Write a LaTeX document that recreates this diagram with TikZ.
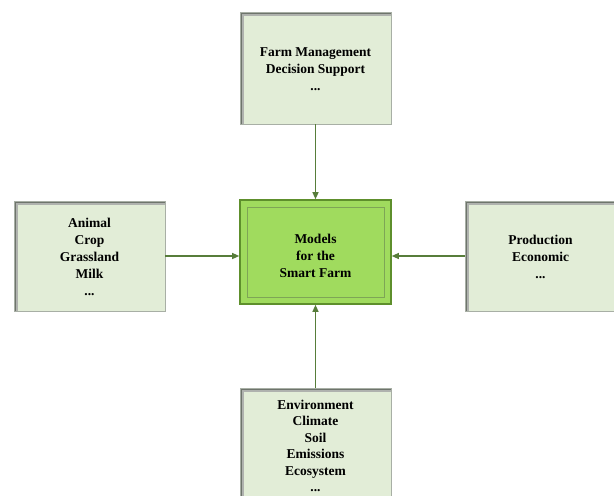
\documentclass[tikz,border=0pt]{standalone}
\usepackage{fontspec}
\setmainfont{Liberation Serif}
\usetikzlibrary{arrows.meta}
\definecolor{lightbox}{HTML}{E2EDD7}
\definecolor{shadowgray}{HTML}{6E746C}
\definecolor{edgegray}{HTML}{A8AFA5}
\definecolor{centerfill}{HTML}{A0DB5E}
\definecolor{centeredge}{HTML}{5E8F2C}
\definecolor{arrowgreen}{HTML}{577D3A}
\tikzset{
  outerbox/.style={rectangle, fill=lightbox, draw=edgegray, line width=0.6pt,
    minimum width=151pt, inner sep=0pt, align=center,
    font=\bfseries\fontsize{13.5}{17}\selectfont, text=black!90,
    path picture={
      \draw[shadowgray!55, line width=7pt] (path picture bounding box.south west) -- (path picture bounding box.north west) -- (path picture bounding box.north east);
      \draw[shadowgray, line width=3.5pt] (path picture bounding box.south west) -- (path picture bounding box.north west) -- (path picture bounding box.north east);
    }},
  centerbox/.style={rectangle, fill=centerfill, draw=centeredge, line width=1.6pt,
    minimum width=151pt, minimum height=104pt, inner sep=0pt, align=center,
    font=\bfseries\fontsize{13.5}{17}\selectfont, text=black!90,
    path picture={
      \draw[centeredge!80, line width=0.9pt] ([xshift=7pt,yshift=7pt]path picture bounding box.south west) rectangle ([xshift=-7pt,yshift=-7pt]path picture bounding box.north east);
    }},
  link/.style={draw=arrowgreen, line width=1.1pt, -{Triangle[length=7pt,width=6pt]}}
}
\begin{document}
\begin{tikzpicture}[x=1pt,y=-1pt]
\useasboundingbox (0,0) rectangle (614,496);
\clip (0,0) rectangle (614,496);
\fill[white] (0,0) rectangle (614,496);
\node[outerbox, minimum height=112pt] (top) at (315.5,68) {};
\node[font=\bfseries\fontsize{13.5}{17}\selectfont, align=center] (toptext) at (315.5,69) {Farm Management\\Decision Support\\...};
\node[centerbox] (center) at (315.5,252) {};
\node[font=\bfseries\fontsize{13.5}{17}\selectfont, align=center] (centertext) at (315.5,256) {Models\\for the\\Smart Farm};
\node[outerbox, minimum height=110pt] (left) at (89.5,256) {};
\node[font=\bfseries\fontsize{13.5}{17}\selectfont, align=center] (lefttext) at (89.5,257) {Animal\\Crop\\Grassland\\Milk\\...};
\node[outerbox, minimum height=110pt] (right) at (540.5,256) {};
\node[font=\bfseries\fontsize{13.5}{17}\selectfont, align=center] (righttext) at (540.5,257) {Production\\Economic\\...};
\node[outerbox, minimum height=120pt] (bottom) at (315.5,448) {};
\node[font=\bfseries\fontsize{13.5}{16.5}\selectfont, align=center] (bottomtext) at (315.5,446) {Environment\\Climate\\Soil\\Emissions\\Ecosystem\\...};
\draw[link] (top.south) -- (center.north);
\draw[link] (left.east) -- (left.east -| center.west);
\draw[link] (right.west) -- (right.west -| center.east);
\draw[link] (bottom.north) -- (center.south);
\end{tikzpicture}
\end{document}
